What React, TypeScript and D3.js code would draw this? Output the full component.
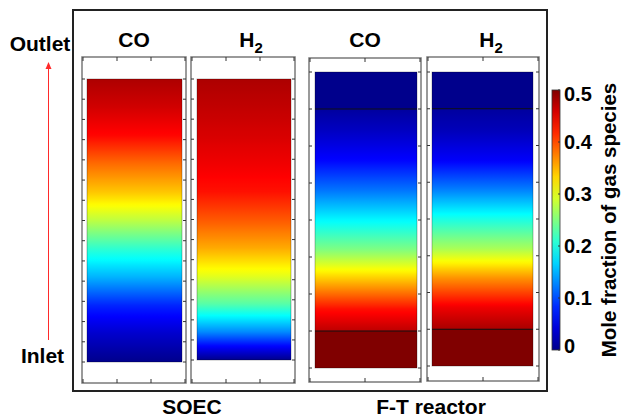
import { useEffect, useRef } from "react";
import * as d3 from "d3";

// fractional position along the reactor (0 = inlet, 1 = outlet)
const soecPositions = [0, 0.1, 0.2, 0.3, 0.4, 0.5, 0.6, 0.7, 0.8, 0.9, 1];
const soecCO = [0.0, 0.035, 0.08, 0.15, 0.21, 0.28, 0.34, 0.385, 0.435, 0.46, 0.478];
const soecH2 = [0.0, 0.13, 0.23, 0.3, 0.355, 0.395, 0.43, 0.445, 0.457, 0.468, 0.478];

const ftPositions = [0, 0.125, 0.125, 0.2, 0.3, 0.4, 0.5, 0.6, 0.7, 0.8, 0.875, 0.875, 1];
const ftCO = [0.5, 0.5, 0.47, 0.43, 0.34, 0.25, 0.185, 0.12, 0.065, 0.03, 0.01, 0.0, 0.0];
const ftH2 = [0.5, 0.5, 0.48, 0.445, 0.365, 0.27, 0.2, 0.125, 0.06, 0.025, 0.01, 0.0, 0.0];
const ftBoundaries = [0.125, 0.875];

const colorTicks = [0, 0.1, 0.2, 0.3, 0.4, 0.5];
const jetStops = [0, 0.0625, 0.1875, 0.3125, 0.4375, 0.5];
const jetColors = ["#00008c", "#0000ff", "#00ffff", "#ffff00", "#ff0000", "#800000"];

const font = "Arial, 'Liberation Sans', sans-serif";

const panels = [
  { id: "soecCO", title: "CO", sub: "", pos: soecPositions, vals: soecCO, frame: [82, 186, 57, 383], inner: [87, 182, 79, 362], vTicks: 15, hTicks: 4, lines: false },
  { id: "soecH2", title: "H", sub: "2", pos: soecPositions, vals: soecH2, frame: [191, 295, 57, 383], inner: [197, 291, 79, 360], vTicks: 15, hTicks: 4, lines: false },
  { id: "ftCO", title: "CO", sub: "", pos: ftPositions, vals: ftCO, frame: [309, 421, 58, 382], inner: [315, 417, 72, 368], vTicks: 9, hTicks: 3, lines: true },
  { id: "ftH2", title: "H", sub: "2", pos: ftPositions, vals: ftH2, frame: [427, 539, 57, 381], inner: [432, 533, 72, 366], vTicks: 9, hTicks: 3, lines: true },
];

const App = () => {
  const svgRef = useRef<SVGSVGElement>(null);

  useEffect(() => {
    const width = 622;
    const height = 417;
    const svg = d3.select(svgRef.current);
    svg.selectAll("*").remove();
    svg.attr("width", width).attr("height", height);

    svg.append("rect").attr("width", width).attr("height", height).attr("fill", "#fff");

    const jet = d3.scaleLinear<string>().domain(jetStops).range(jetColors).clamp(true);
    const defs = svg.append("defs");

    // gradient from (pos, val) samples, subdivided so jet is followed exactly
    const makeGradient = (id: string, pos: number[], vals: number[]) => {
      const grad = defs.append("linearGradient").attr("id", id)
        .attr("x1", 0).attr("y1", 1).attr("x2", 0).attr("y2", 0);
      for (let i = 0; i < pos.length - 1; i++) {
        const steps = pos[i] === pos[i + 1] ? 1 : 12;
        const ip = d3.interpolateNumber(pos[i], pos[i + 1]);
        const iv = d3.interpolateNumber(vals[i], vals[i + 1]);
        for (let s = 0; s <= steps; s++) {
          const t = s / steps;
          grad.append("stop").attr("offset", ip(t)).attr("stop-color", jet(iv(t)));
        }
      }
    };

    // outer box
    svg.append("rect").attr("x", 73).attr("y", 10).attr("width", 474).attr("height", 381)
      .attr("fill", "none").attr("stroke", "#222").attr("stroke-width", 2);

    panels.forEach((p) => {
      makeGradient(`g-${p.id}`, p.pos, p.vals);
      const [fx0, fx1, fy0, fy1] = p.frame;
      const [ix0, ix1, iy0, iy1] = p.inner;
      const y = d3.scaleLinear().domain([0, 1]).range([iy1, iy0]);
      const g = svg.append("g");

      g.append("rect").attr("x", ix0).attr("y", iy0).attr("width", ix1 - ix0).attr("height", iy1 - iy0)
        .attr("fill", `url(#g-${p.id})`).attr("stroke", "rgba(0,0,0,0.35)").attr("stroke-width", 0.8);

      if (p.lines) {
        g.selectAll("line.bd").data(ftBoundaries).join("line").attr("class", "bd")
          .attr("x1", ix0).attr("x2", ix1).attr("y1", (d) => y(d)).attr("y2", (d) => y(d))
          .attr("stroke", "#111").attr("stroke-width", 1.2);
      }

      g.append("rect").attr("x", fx0).attr("y", fy0).attr("width", fx1 - fx0).attr("height", fy1 - fy0)
        .attr("fill", "none").attr("stroke", "#7a7a7a").attr("stroke-width", 1.5);

      const vt = d3.range(p.vTicks).map((i) => y(i / (p.vTicks - 1)));
      [fx0, fx1].forEach((x, k) => {
        g.selectAll(null).data(vt).join("line")
          .attr("x1", x).attr("x2", x + (k === 0 ? 3 : -3)).attr("y1", (d) => d).attr("y2", (d) => d)
          .attr("stroke", "#333").attr("stroke-width", 1);
      });
      const xs = d3.scaleLinear().domain([0, p.hTicks - 1]).range([fx0 + 1, fx1 - 1]);
      const ht = d3.range(p.hTicks).map((i) => xs(i));
      [fy0, fy1].forEach((yy, k) => {
        g.selectAll(null).data(ht).join("line")
          .attr("x1", (d) => d).attr("x2", (d) => d).attr("y1", yy).attr("y2", yy + (k === 0 ? 4 : -4))
          .attr("stroke", "#333").attr("stroke-width", 1);
      });

      const cx = (fx0 + fx1) / 2 + (p.sub ? 8 : 0);
      const t = g.append("text").attr("x", cx).attr("y", 47).attr("text-anchor", "middle")
        .style("font-family", font).style("font-weight", "bold").style("font-size", "21px").attr("fill", "#000")
        .text(p.title);
      if (p.sub) {
        t.append("tspan").attr("dy", 6).style("font-size", "15px").text(p.sub);
      }
    });

    // colorbar
    const cScale = d3.scaleLinear().domain([0, 0.5]).range([350, 90]);
    makeGradient("g-cbar", [0, 1], [0, 0.5]);
    svg.append("rect").attr("x", 552).attr("y", 90).attr("width", 8).attr("height", 260)
      .attr("fill", "url(#g-cbar)").attr("stroke", "#333").attr("stroke-width", 0.8);
    svg.selectAll("line.ct").data(colorTicks).join("line").attr("class", "ct")
      .attr("x1", 558).attr("x2", 560).attr("y1", (d) => cScale(d)).attr("y2", (d) => cScale(d))
      .attr("stroke", "#333");
    svg.selectAll("text.ct").data(colorTicks).join("text").attr("class", "ct")
      .attr("x", 564).attr("y", (d) => cScale(d) + (d === 0.5 ? 4 : d === 0 ? -4 : 0)).attr("dy", "0.36em")
      .style("font-family", font).style("font-weight", "bold").style("font-size", "20px")
      .text((d) => d3.format("")(d));
    svg.append("text").attr("transform", "translate(616,220) rotate(-90)").attr("text-anchor", "middle")
      .style("font-family", font).style("font-weight", "bold").style("font-size", "20.5px")
      .text("Mole fraction of gas species");

    // inlet/outlet arrow
    svg.append("line").attr("x1", 48.5).attr("x2", 48.5).attr("y1", 340).attr("y2", 68)
      .attr("stroke", "#ff2a2a").attr("stroke-width", 1);
    svg.append("path").attr("d", "M48.5,62 L45.5,69 L51.5,69 Z").attr("fill", "#ff2a2a");
    svg.append("text").attr("x", 40).attr("y", 51).attr("text-anchor", "middle")
      .style("font-family", font).style("font-weight", "bold").style("font-size", "21px").text("Outlet");
    svg.append("text").attr("x", 42.5).attr("y", 363).attr("text-anchor", "middle")
      .style("font-family", font).style("font-weight", "bold").style("font-size", "21px").text("Inlet");

    svg.append("text").attr("x", 192).attr("y", 414).attr("text-anchor", "middle")
      .style("font-family", font).style("font-weight", "bold").style("font-size", "21px").text("SOEC");
    svg.append("text").attr("x", 431).attr("y", 414).attr("text-anchor", "middle")
      .style("font-family", font).style("font-weight", "bold").style("font-size", "21px").text("F-T reactor");
  }, []);

  return <svg ref={svgRef} style={{ position: "absolute", left: 0, top: 0, display: "block" }}></svg>;
};

export default App;
